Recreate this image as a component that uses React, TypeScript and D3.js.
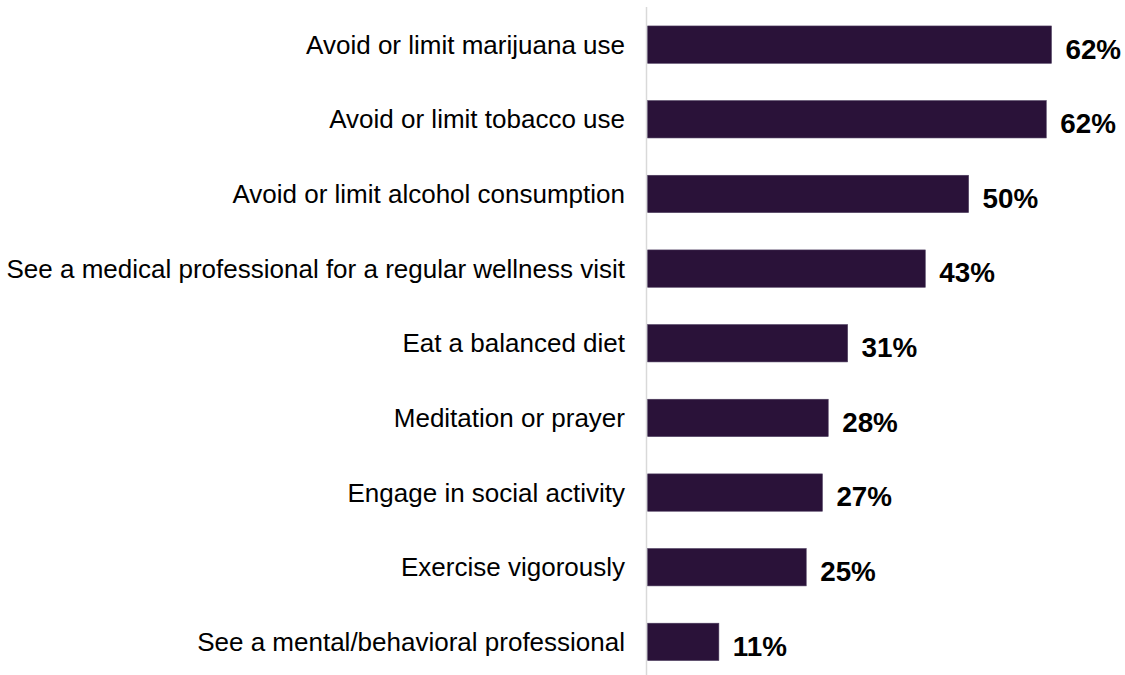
import React from "react";
import * as d3 from "d3";

const categories: string[] = [
  "Avoid or limit marijuana use",
  "Avoid or limit tobacco use",
  "Avoid or limit alcohol consumption",
  "See a medical professional for a regular wellness visit",
  "Eat a balanced diet",
  "Meditation or prayer",
  "Engage in social activity",
  "Exercise vigorously",
  "See a mental/behavioral professional",
];

const values: number[] = [62.4, 61.6, 49.6, 42.9, 30.9, 27.9, 27.0, 24.5, 11.0];

const W = 1125;
const H = 675;

export default function App() {
  const x = d3.scaleLinear().domain([0, 100]).range([647.7, 647.7 + 647]);
  const y = d3
    .scaleBand<string>()
    .domain(categories)
    .range([7.3, 679.2])
    .paddingInner(0.5)
    .paddingOuter(0.25);
  const bw = y.bandwidth();
  const font = "'Liberation Sans', Arial, Helvetica, sans-serif";

  return (
    <svg
      width={W}
      height={H}
      style={{ position: "absolute", left: 0, top: 0, background: "#fff" }}
      fontFamily={font}
    >
      <line x1={646.5} x2={646.5} y1={7} y2={H} stroke="#d9d9d9" strokeWidth={1.5} />
      {categories.map((c, i) => {
        const y0 = y(c) as number;
        const cy = y0 + bw / 2;
        return (
          <g key={c}>
            <rect
              x={x(0)}
              y={y0}
              width={x(values[i]) - x(0)}
              height={bw}
              fill="#2a1239"
              stroke="#4a3a5c"
              strokeWidth={0.6}
            />
            <text
              x={625}
              y={cy}
              dy="0.35em"
              textAnchor="end"
              fontSize={26}
              fill="#000"
            >
              {c}
            </text>
            <text
              x={x(values[i]) + 14}
              y={cy}
              dy="0.5em"
              fontSize={27.8}
              fontWeight="bold"
              fill="#000"
            >
              {`${Math.round(values[i])}%`}
            </text>
          </g>
        );
      })}
    </svg>
  );
}
